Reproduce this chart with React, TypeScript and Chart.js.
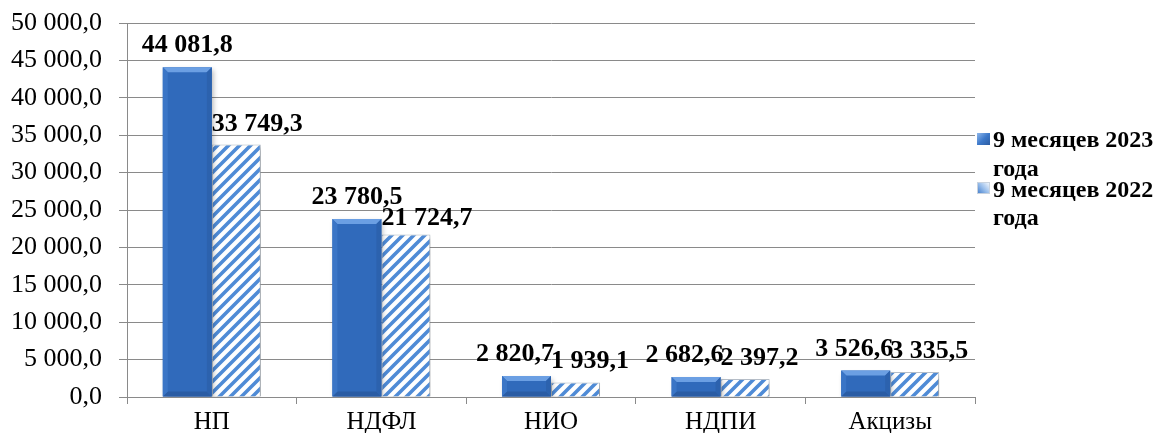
import React, { useEffect, useRef } from 'react';
import { Chart, registerables } from 'chart.js';

Chart.register(...registerables);

const categories = ['НП', 'НДФЛ', 'НИО', 'НДПИ', 'Акцизы'];
const series2023 = [44081.8, 23780.5, 2820.7, 2682.6, 3526.6];
const series2022 = [33749.3, 21724.7, 1939.1, 2397.2, 3335.5];
const seriesNames = [['9 месяцев 2023', 'года'], ['9 месяцев 2022', 'года']];
const yMin = 0;
const yMax = 50000;
const yStep = 5000;

const FONT = '"Liberation Serif", "Times New Roman", serif';

function fmt(v: number): string {
  const [i, d] = v.toFixed(1).split('.');
  return i.replace(/\B(?=(\d{3})+(?!\d))/g, ' ') + ',' + d;
}

function makeHatch(): CanvasPattern | string {
  const c = document.createElement('canvas');
  const s = 11;
  c.width = s;
  c.height = s;
  const g = c.getContext('2d');
  if (!g) return '#ffffff';
  g.fillStyle = '#ffffff';
  g.fillRect(0, 0, s, s);
  g.strokeStyle = '#4f8bd6';
  g.lineWidth = 3.6;
  g.lineCap = 'square';
  g.beginPath();
  g.moveTo(-s, s * 2); g.lineTo(s * 2, -s);
  g.moveTo(-s, s); g.lineTo(s, -s);
  g.moveTo(0, s * 2); g.lineTo(s * 2, 0);
  g.stroke();
  const p = g.createPattern(c, 'repeat');
  return p || '#ffffff';
}

const shadowPlugin = {
  id: 'barShadow',
  beforeDatasetDraw(chart: any) {
    const ctx = chart.ctx;
    ctx.save();
    ctx.shadowColor = 'rgba(0,0,0,0.28)';
    ctx.shadowBlur = 5;
    ctx.shadowOffsetX = 2;
    ctx.shadowOffsetY = 3;
  },
  afterDatasetDraw(chart: any) {
    chart.ctx.restore();
  },
};

const bevelPlugin = {
  id: 'bevel',
  afterDatasetsDraw(chart: any) {
    const ctx = chart.ctx;
    const meta = chart.getDatasetMeta(0);
    ctx.save();
    meta.data.forEach((bar: any) => {
      const L = bar.x - bar.width / 2;
      const R = bar.x + bar.width / 2;
      const T = bar.y;
      const B = bar.base;
      const s = Math.min(5, (B - T) / 2.5);
      const poly = (pts: number[][], col: string) => {
        ctx.beginPath();
        ctx.moveTo(pts[0][0], pts[0][1]);
        for (let k = 1; k < pts.length; k++) ctx.lineTo(pts[k][0], pts[k][1]);
        ctx.closePath();
        ctx.fillStyle = col;
        ctx.fill();
      };
      poly([[L, T], [R, T], [R - s, T + s], [L + s, T + s]], '#6b9fe3');
      poly([[L, B], [R, B], [R - s, B - s], [L + s, B - s]], '#2a5ca4');
      poly([[L, T], [L + s, T + s], [L + s, B - s], [L, B]], '#3a75c6');
      poly([[R, T], [R - s, T + s], [R - s, B - s], [R, B]], '#2c62ae');
    });
    ctx.restore();
  },
};

const labelPlugin = {
  id: 'valueLabels',
  afterDatasetsDraw(chart: any) {
    const ctx = chart.ctx;
    const m0 = chart.getDatasetMeta(0);
    const m1 = chart.getDatasetMeta(1);
    ctx.save();
    ctx.font = 'bold 26px ' + FONT;
    ctx.fillStyle = '#000000';
    ctx.textBaseline = 'alphabetic';
    categories.forEach((_, i) => {
      const b0 = m0.data[i];
      const b1 = m1.data[i];
      const t0 = fmt(series2023[i]);
      const t1 = fmt(series2022[i]);
      const w0 = ctx.measureText(t0).width;
      const close = Math.abs(b0.y - b1.y) < 10;
      const y0 = b0.y - 15;
      let y1 = b1.y - 14;
      const x1 = b1.x - b1.width / 2;
      if (close) {
        ctx.textAlign = 'right';
        ctx.fillText(t0, b0.x + b0.width / 2 + 3, y0);
      } else {
        ctx.textAlign = 'center';
        ctx.fillText(t0, b0.x, y0);
        const right0 = b0.x + w0 / 2;
        if (right0 > x1 && Math.abs(y1 - y0) < 21) y1 = y0 + 21;
      }
      ctx.textAlign = 'left';
      ctx.fillText(t1, x1, y1);
    });
    ctx.restore();
  },
};

const legendPlugin = {
  id: 'sideLegend',
  afterDraw(chart: any) {
    const ctx = chart.ctx;
    const area = chart.chartArea;
    const x0 = area.right + 2;
    ctx.save();
    const g1 = ctx.createLinearGradient(x0, 133, x0 + 13, 146);
    g1.addColorStop(0, '#8fb8ec');
    g1.addColorStop(0.5, '#3c78c9');
    g1.addColorStop(1, '#2a5a9e');
    ctx.fillStyle = g1;
    ctx.fillRect(x0, 133, 13, 12);
    const g2 = ctx.createLinearGradient(x0, 194, x0 + 13, 182);
    g2.addColorStop(0, '#3c78c9');
    g2.addColorStop(0.5, '#9cc0ec');
    g2.addColorStop(1, '#ffffff');
    ctx.fillStyle = g2;
    ctx.fillRect(x0, 182, 13, 12);
    ctx.strokeStyle = '#c8d2de';
    ctx.lineWidth = 1;
    ctx.strokeRect(x0 + 0.5, 182.5, 12, 11);

    ctx.font = 'bold 24px ' + FONT;
    ctx.fillStyle = '#000000';
    ctx.textAlign = 'left';
    ctx.textBaseline = 'alphabetic';
    const tx = x0 + 16;
    ctx.fillText(seriesNames[0][0], tx, 147);
    ctx.fillText(seriesNames[0][1], tx, 176);
    ctx.fillText(seriesNames[1][0], tx, 197);
    ctx.fillText(seriesNames[1][1], tx, 225);
    ctx.restore();
  },
};

export default function App() {
  const ref = useRef<HTMLCanvasElement | null>(null);

  useEffect(() => {
    document.body.style.margin = '0';
    const canvas = ref.current;
    if (!canvas) return;
    const hatch = makeHatch();
    const chart = new Chart(canvas, {
      type: 'bar',
      data: {
        labels: categories,
        datasets: [
          {
            label: seriesNames[0].join(' '),
            data: series2023,
            backgroundColor: '#306abb',
            borderWidth: 0,
            categoryPercentage: 0.578,
            barPercentage: 1,
          },
          {
            label: seriesNames[1].join(' '),
            data: series2022,
            backgroundColor: hatch as any,
            borderColor: '#b9c2cc',
            borderWidth: 1,
            categoryPercentage: 0.578,
            barPercentage: 1,
          },
        ],
      },
      options: {
        responsive: false,
        animation: false,
        devicePixelRatio: 1,
        layout: { padding: { top: 23, right: 184, left: 0, bottom: 0 } },
        plugins: {
          legend: { display: false },
          tooltip: { enabled: false },
        },
        scales: {
          x: {
            offset: true,
            grid: {
              offset: true,
              drawOnChartArea: false,
              drawTicks: true,
              tickLength: 7,
              color: '#8a8a8a',
            },
            border: { color: '#8a8a8a', width: 1 },
            ticks: {
              color: '#000000',
              font: { family: FONT, size: 25 },
              padding: 3,
              maxRotation: 0,
            },
            afterFit: (s: any) => { s.height = 36; s.paddingLeft = 0; s.paddingRight = 0; },
          },
          y: {
            min: yMin,
            max: yMax,
            grid: {
              color: '#8a8a8a',
              tickLength: 8,
              lineWidth: 1,
            },
            border: { color: '#8a8a8a', width: 1 },
            ticks: {
              stepSize: yStep,
              color: '#000000',
              font: { family: FONT, size: 26 },
              padding: 17,
              callback: (v: any) => fmt(Number(v)),
            },
            afterFit: (s: any) => { s.width = 127; s.paddingTop = 0; s.paddingBottom = 0; },
          },
        },
      },
      plugins: [shadowPlugin, bevelPlugin, labelPlugin, legendPlugin],
    } as any);
    return () => chart.destroy();
  }, []);

  return (
    <div style={{ position: 'absolute', left: 0, top: 0, width: 1159, height: 433 }}>
      <canvas ref={ref} width={1159} height={433} style={{ width: 1159, height: 433 }} />
    </div>
  );
}
